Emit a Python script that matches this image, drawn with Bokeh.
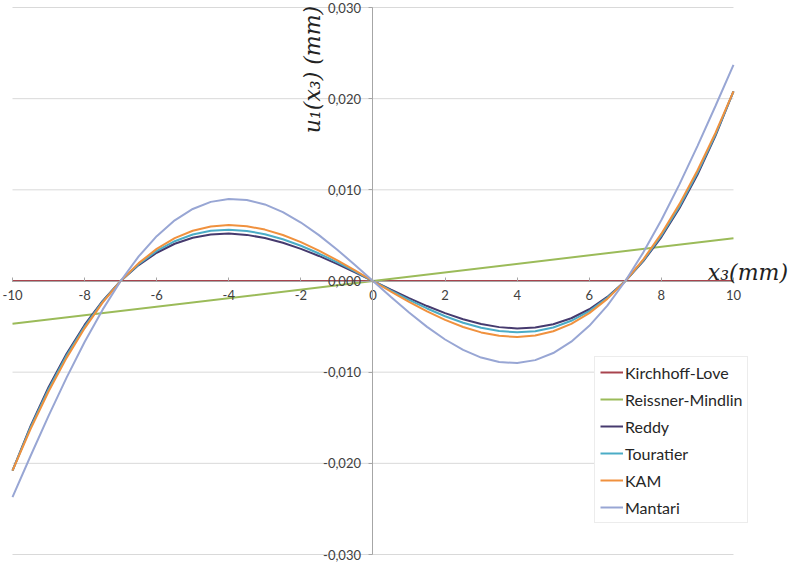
from bokeh.plotting import figure
from bokeh.models import Range1d, FixedTicker, CustomJSTickFormatter, Legend, LegendItem, Label
from bokeh.embed import file_html
from bokeh.resources import INLINE

# ---- data ----
x3 = [-10, -9.5, -9, -8.5, -8, -7.5, -7, -6.5, -6, -5.5, -5, -4.5, -4, -3.5, -3, -2.5, -2, -1.5, -1, -0.5,
      0, 0.5, 1, 1.5, 2, 2.5, 3, 3.5, 4, 4.5, 5, 5.5, 6, 6.5, 7, 7.5, 8, 8.5, 9, 9.5, 10]

reddy = [-0.020801, -0.015921, -0.011656, -0.007970, -0.004823, -0.002179, 0.000000, 0.001747, 0.003099, 0.004087,
         0.004745, 0.005106, 0.005200, 0.005059, 0.004714, 0.004193, 0.003528, 0.002747, 0.001879, 0.000954,
         0.0,
         -0.000954, -0.001879, -0.002747, -0.003528, -0.004193, -0.004714, -0.005059, -0.005200, -0.005106, -0.004745,
         -0.004087, -0.003099, -0.001747, 0.000000, 0.002179, 0.004823, 0.007970, 0.011656, 0.015921, 0.020801]

touratier = [-0.020797, -0.016065, -0.011866, -0.008181, -0.004989, -0.002270, 0.000000, 0.001846, 0.003292, 0.004365,
             0.005094, 0.005505, 0.005629, 0.005496, 0.005136, 0.004581, 0.003862, 0.003012, 0.002063, 0.001048,
             0.0,
             -0.001048, -0.002063, -0.003012, -0.003862, -0.004581, -0.005136, -0.005496, -0.005629, -0.005505, -0.005094,
             -0.004365, -0.003292, -0.001846, 0.000000, 0.002270, 0.004989, 0.008181, 0.011866, 0.016065, 0.020797]

kam = [-0.020800, -0.016243, -0.012119, -0.008434, -0.005189, -0.002380, 0.000000, 0.001962, 0.003522, 0.004697,
       0.005508, 0.005980, 0.006140, 0.006016, 0.005639, 0.005042, 0.004260, 0.003328, 0.002282, 0.001160,
       0.0,
       -0.001160, -0.002282, -0.003328, -0.004260, -0.005042, -0.005639, -0.006016, -0.006140, -0.005980, -0.005508,
       -0.004697, -0.003522, -0.001962, 0.000000, 0.002380, 0.005189, 0.008434, 0.012119, 0.016243, 0.020800]

mantari = [-0.023700, -0.019198, -0.014798, -0.010602, -0.006693, -0.003142, 0.000000, 0.002694, 0.004915, 0.006651,
           0.007903, 0.008679, 0.009000, 0.008895, 0.008399, 0.007556, 0.006416, 0.005031, 0.003459, 0.001761,
           0.0,
           -0.001761, -0.003459, -0.005031, -0.006416, -0.007556, -0.008399, -0.008895, -0.009000, -0.008679, -0.007903,
           -0.006651, -0.004915, -0.002694, 0.000000, 0.003142, 0.006693, 0.010602, 0.014798, 0.019198, 0.023700]

x3_lin = [-10, 0, 10]
kirchhoff_love = [0.0, 0.0, 0.0]
reissner_mindlin = [-0.0047, 0.0, 0.0047]

x_ticks = [-10, -8, -6, -4, -2, 0, 2, 4, 6, 8, 10]
y_ticks = [-0.03, -0.02, -0.01, 0.0, 0.01, 0.02, 0.03]

series_names = ["Kirchhoff-Love", "Reissner-Mindlin", "Reddy", "Touratier", "KAM", "Mantari"]
series_colors = ["#A8444E", "#9BBB59", "#463A6E", "#4BACC6", "#F0913E", "#98A6D4"]

# ---- figure (frame a bit larger than the data so labels are not clipped) ----
p = figure(width=792, height=563, output_backend="svg", toolbar_location=None,
           x_range=Range1d(-10.333, 11.637), y_range=Range1d(-0.030987, 0.030768),
           min_border_left=0, min_border_right=0, min_border_top=0, min_border_bottom=0)
p.outline_line_color = None
p.background_fill_color = "white"
p.border_fill_color = "white"
p.xgrid.grid_line_color = None
p.ygrid.grid_line_color = None

# horizontal gridlines limited to the data extent
p.segment(x0=x_ticks[0], x1=x_ticks[-1], y0=y_ticks, y1=y_ticks, line_color="#D9D9D9", line_width=1)

# axes crossing at the origin
p.xaxis.fixed_location = 0
p.yaxis.fixed_location = 0
p.xaxis.bounds = (x_ticks[0], x_ticks[-1])
p.yaxis.bounds = (y_ticks[0], y_ticks[-1])
p.xaxis.ticker = FixedTicker(ticks=x_ticks)
p.yaxis.ticker = FixedTicker(ticks=y_ticks)
p.xaxis.formatter = CustomJSTickFormatter(code="return String(tick);")
p.yaxis.formatter = CustomJSTickFormatter(code="return tick.toFixed(3).replace('.', ',');")
for ax in (p.xaxis, p.yaxis):
    ax.axis_line_color = "#A6A6A6"
    ax.axis_line_width = 1
    ax.major_tick_line_color = "#A6A6A6"
    ax.minor_tick_line_color = None
    ax.major_label_text_font = "Lato"
    ax.major_label_text_font_size = "13px"
    ax.major_label_text_color = "#404040"
p.xaxis.major_tick_in = 4
p.xaxis.major_tick_out = 0
p.xaxis.major_label_standoff = 9
p.yaxis.major_tick_in = 0
p.yaxis.major_tick_out = 4
p.yaxis.major_label_standoff = 8

# ---- series ----
renderers = []
renderers.append(p.line(x3_lin, kirchhoff_love, line_color=series_colors[0], line_width=2))
renderers.append(p.line(x3_lin, reissner_mindlin, line_color=series_colors[1], line_width=2))
for ys, col in zip([reddy, touratier, kam, mantari], series_colors[2:]):
    renderers.append(p.line(x3, ys, line_color=col, line_width=2))

legend = Legend(items=[LegendItem(label=n, renderers=[r]) for n, r in zip(series_names, renderers)],
                location=(594, 40))
legend.label_text_font = "Lato"
legend.label_text_font_size = "16px"
legend.label_text_color = "#262626"
legend.glyph_width = 23
legend.glyph_height = 20
legend.label_height = 20
legend.label_standoff = 2
legend.spacing = 7
legend.padding = 5
legend.margin = 0
legend.border_line_color = "#D9D9D9"
legend.background_fill_color = "white"
legend.background_fill_alpha = 1
p.add_layout(legend, "center")

# ---- axis titles ----
ylab = Label(x=-1.68, y=0.0232, text="u\u2081(x\u2083) (mm)", angle=1.5708,
             text_align="center", text_baseline="middle",
             text_font="DejaVu Serif", text_font_style="italic", text_font_size="22px", text_color="#222222")
xlab = Label(x=10.4, y=0.0009, text="x\u2083(mm)",
             text_align="center", text_baseline="middle",
             text_font="DejaVu Serif", text_font_style="italic", text_font_size="22px", text_color="#222222")
p.add_layout(ylab)
p.add_layout(xlab)

open("out.html", "w").write(file_html(p, INLINE))
